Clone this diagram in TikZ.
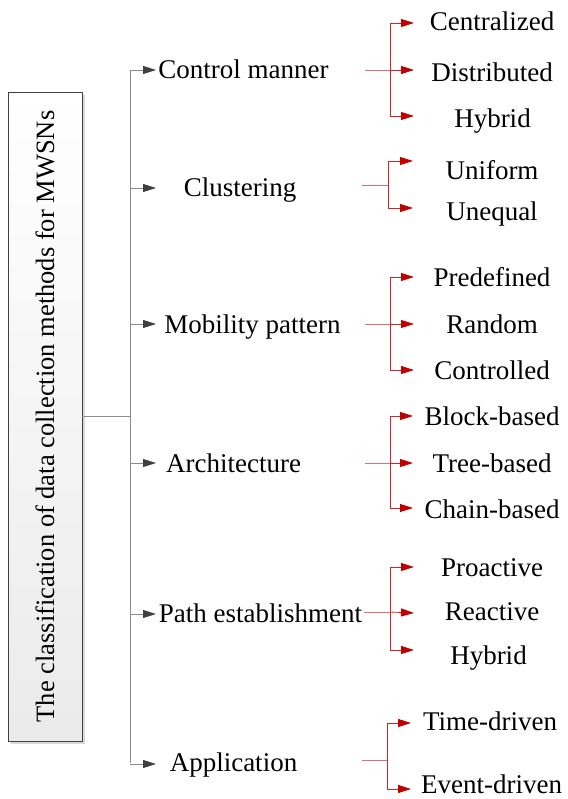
\documentclass[tikz,border=0pt]{standalone}
\usepackage{fontspec}
\setmainfont{Liberation Serif}
\usetikzlibrary{arrows.meta}
\definecolor{trunkgray}{RGB}{140,140,140}
\definecolor{tipgray}{RGB}{64,64,64}
\definecolor{leafred}{RGB}{200,40,40}
\definecolor{tipred}{RGB}{192,0,0}
\definecolor{feedred}{RGB}{225,110,110}
\begin{document}
\begin{tikzpicture}[x=1pt,y=-1pt,
  lbl/.style={anchor=base, inner sep=0pt, font=\fontsize{27}{30}\selectfont},
  trunkline/.style={draw=trunkgray, line width=0.8pt},
  mainarrow/.style={trunkline, -{Triangle[length=13pt,width=8pt,color=tipgray]}},
  leafarrow/.style={draw=leafred, line width=0.8pt, -{Triangle[length=13pt,width=8pt,color=tipred]}},
  feedline/.style={draw=feedred, line width=0.9pt},
  titlebox/.style={draw=black!75, line width=0.8pt, rotate=90,
    minimum width=649pt, minimum height=74pt, inner sep=0pt,
    top color=white, bottom color=black!8,
    font=\fontsize{26.5}{30}\selectfont}
]
\useasboundingbox (0,0) rectangle (567,799);

% title box with its soft shadow
\fill[black!15] (11,95) rectangle (85,744);
\node[titlebox] (box) at (45,416.5) {The classification of data collection methods for MWSNs};

% trunk
\coordinate (ttop) at (130,70);
\coordinate (tbot) at (130,763);
\draw[trunkline] (ttop) -- (tbot);
\draw[trunkline] (box.south) -- (box.south -| ttop);

% first level
\node[lbl] (cm) at (243.5,79) {Control manner};
\node[lbl] (cl) at (240,197) {Clustering};
\node[lbl] (mp) at (252.5,333) {Mobility pattern};
\node[lbl] (ar) at (233.5,472) {Architecture};
\node[lbl] (pe) at (260.5,622) {Path establishment};
\node[lbl] (ap) at (233.5,771) {Application};

\coordinate (s1) at (130,70);  \coordinate (m1) at (156,70);
\coordinate (s2) at (130,188); \coordinate (m2) at (156,188);
\coordinate (s3) at (130,324); \coordinate (m3) at (156,324);
\coordinate (s4) at (130,463); \coordinate (m4) at (156,463);
\coordinate (s5) at (130,614); \coordinate (m5) at (156,614);
\coordinate (s6) at (130,764); \coordinate (m6) at (156,764);
\foreach \i in {1,...,6} \draw[mainarrow] (s\i) -- (m\i);

% second level labels
\node[lbl] (c1) at (492,31) {Centralized};
\node[lbl] (c2) at (492,82) {Distributed};
\node[lbl] (c3) at (492.5,128) {Hybrid};
\node[lbl] (u1) at (492,180) {Uniform};
\node[lbl] (u2) at (492,221) {Unequal};
\node[lbl] (p1) at (492,286) {Predefined};
\node[lbl] (p2) at (492,333) {Random};
\node[lbl] (p3) at (492,379) {Controlled};
\node[lbl] (b1) at (492,425) {Block-based};
\node[lbl] (b2) at (492,472) {Tree-based};
\node[lbl] (b3) at (492,518) {Chain-based};
\node[lbl] (r1) at (492,576) {Proactive};
\node[lbl] (r2) at (492,620) {Reactive};
\node[lbl] (r3) at (488.5,664) {Hybrid};
\node[lbl] (d1) at (490,730) {Time-driven};
\node[lbl] (d2) at (491.5,793.5) {Event-driven};

% brackets: feeder, junction, arrow tips
\coordinate (fa) at (365,70);  \coordinate (ja) at (390,70);
\coordinate (fb) at (362,185); \coordinate (jb) at (388,185);
\coordinate (fc) at (365,324); \coordinate (jc) at (390,324);
\coordinate (fd) at (365,463); \coordinate (jd) at (390,463);
\coordinate (fe) at (364,612); \coordinate (je) at (390,612);
\coordinate (ff) at (362,760); \coordinate (jf) at (387,760);

\draw[feedline] (fa) -- (ja);
\draw[feedline] (fb) -- (jb);
\draw[feedline] (fc) -- (jc);
\draw[feedline] (fd) -- (jd);
\draw[feedline] (fe) -- (je);
\draw[feedline] (ff) -- (jf);

\draw[leafarrow] (ja) |- (414,23);
\draw[leafarrow] (ja) -- (414,70);
\draw[leafarrow] (ja) |- (414,116);

\draw[leafarrow] (jb) |- (413,161);
\draw[leafarrow] (jb) |- (413,208);

\draw[leafarrow] (jc) |- (414,277);
\draw[leafarrow] (jc) -- (414,324);
\draw[leafarrow] (jc) |- (414,370);

\draw[leafarrow] (jd) |- (413,416);
\draw[leafarrow] (jd) -- (413,463);
\draw[leafarrow] (jd) |- (413,508);

\draw[leafarrow] (je) |- (414,567);
\draw[leafarrow] (je) -- (414,613);
\draw[leafarrow] (je) |- (414,650);

\draw[leafarrow] (jf) |- (411,723);
\draw[leafarrow] (jf) |- (411,789);
\end{tikzpicture}
\end{document}
